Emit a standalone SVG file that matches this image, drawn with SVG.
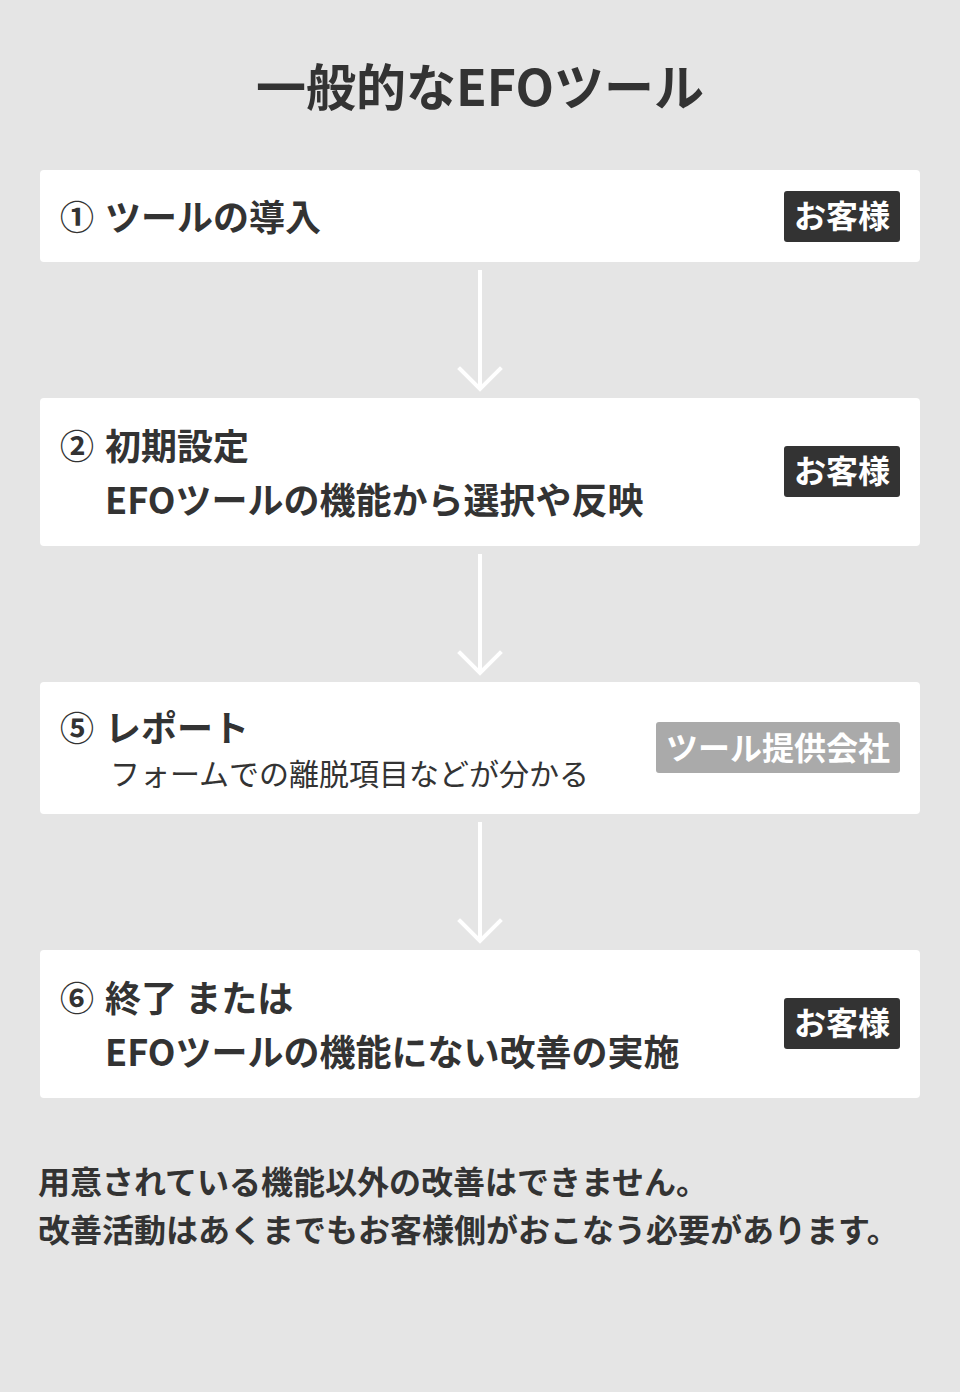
<svg xmlns="http://www.w3.org/2000/svg" width="960" height="1392" viewBox="0 0 960 1392">
<defs>
<style>
.bg{fill:#e5e5e5}
.card{fill:#ffffff}
.t{font-family:"Noto Sans CJK JP","Noto Sans",sans-serif;fill:#333333}
.b{font-weight:700}
.h{font-size:36px}
.num{font-size:34px}
.sub{font-size:30px;font-weight:400}
.badge{fill:#333333}
.badge2{fill:#aaaaaa}
.bt{font-family:"Noto Sans CJK JP","Noto Sans",sans-serif;font-weight:700;font-size:32px;fill:#ffffff;text-anchor:middle}
.conn{stroke:#ffffff;stroke-width:4;fill:none;stroke-linecap:square}
.note{font-size:32px}
</style>
</defs>
<rect class="bg" x="0" y="0" width="960" height="1392"/>
<text class="t b" x="480" y="106" font-size="50" text-anchor="middle">一般的なEFOツール</text>

<g id="connectors">
<line class="conn" x1="480" y1="272" x2="480" y2="386"/>
<polyline class="conn" points="460,369 480,389 500,369"/>
<line class="conn" x1="480" y1="556" x2="480" y2="670"/>
<polyline class="conn" points="460,653 480,673 500,653"/>
<line class="conn" x1="480" y1="824" x2="480" y2="938"/>
<polyline class="conn" points="460,921 480,941 500,921"/>
</g>

<g id="node1">
<rect class="card" x="40" y="170" width="880" height="92" rx="4"/>
<text class="t b num" x="60" y="230">①</text>
<text class="t b h" x="105" y="231">ツールの導入</text>
<rect class="badge" x="784" y="191" width="116" height="51" rx="3"/>
<text class="bt" x="842" y="228">お客様</text>
</g>

<g id="node2">
<rect class="card" x="40" y="398" width="880" height="148" rx="4"/>
<text class="t b num" x="60" y="459">②</text>
<text class="t b h" x="105" y="460">初期設定</text>
<text class="t b h" x="105" y="514">EFOツールの機能から選択や反映</text>
<rect class="badge" x="784" y="446" width="116" height="51" rx="3"/>
<text class="bt" x="842" y="483">お客様</text>
</g>

<g id="node3">
<rect class="card" x="40" y="682" width="880" height="132" rx="4"/>
<text class="t b num" x="60" y="741">⑤</text>
<text class="t b h" x="105" y="742">レポート</text>
<text class="t sub" x="110" y="785">フォームでの離脱項目などが分かる</text>
<rect class="badge2" x="656" y="722" width="244" height="51" rx="3"/>
<text class="bt" x="778" y="760">ツール提供会社</text>
</g>

<g id="node4">
<rect class="card" x="40" y="950" width="880" height="148" rx="4"/>
<text class="t b num" x="60" y="1011">⑥</text>
<text class="t b h" x="105" y="1012">終了 または</text>
<text class="t b h" x="105" y="1066">EFOツールの機能にない改善の実施</text>
<rect class="badge" x="784" y="998" width="116" height="51" rx="3"/>
<text class="bt" x="842" y="1035">お客様</text>
</g>

<text class="t b note" x="38" y="1194">用意されている機能以外の改善はできません。</text>
<text class="t b note" x="38" y="1242">改善活動はあくまでもお客様側がおこなう必要があります。</text>
</svg>
